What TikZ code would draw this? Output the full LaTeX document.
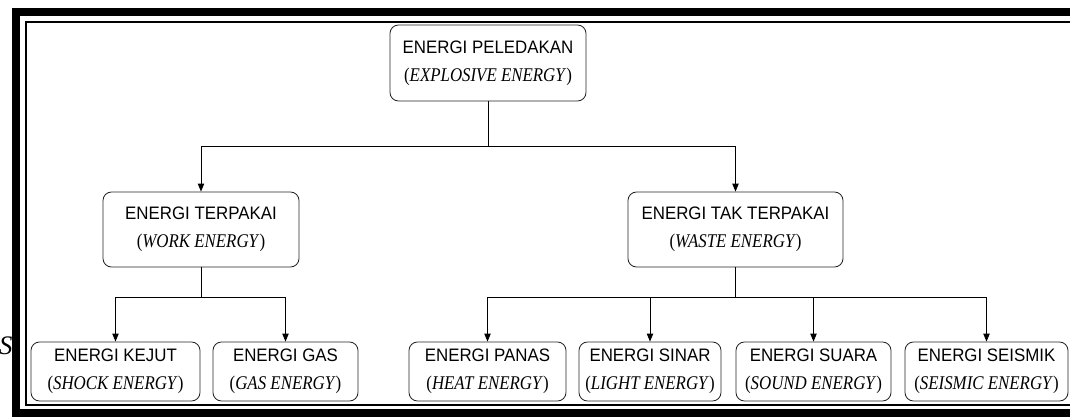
\documentclass[tikz,border=0pt]{standalone}
\usepackage{graphicx}
\usepackage{fontspec}
\setmainfont{Liberation Serif}
\setsansfont{Liberation Sans}
\usetikzlibrary{arrows.meta,calc}
\tikzset{
  >={Triangle[length=2mm,width=1.6mm]},
  ebox/.style={draw=black!85,rounded corners=6pt,line width=0.6pt,align=center,
    font=\fontsize{12}{20}\selectfont,inner sep=0pt,minimum width=#1},
  ebox/.default=4.9cm,
  flow/.style={->,line width=0.6pt},
  link/.style={line width=0.6pt},
}
\newcommand{\elabel}[2]{\scalebox{1}[1.07]{\sffamily #1}\\\scalebox{1}[1.15]{({\itshape #2\/})}}

\begin{document}
\begin{tikzpicture}
  \useasboundingbox (0,0) rectangle (26.75,-10.475);
  % cut-off letter and frame
  \node[anchor=east,inner sep=0pt,font=\fontsize{19}{19}\selectfont\itshape] (stray) at (0.32,-8.65) {S};
  \draw[line width=0.2cm] (26.9,-0.3) -- (0.4,-0.3) -- (0.4,-10.325) -- (26.9,-10.325);
  \draw[line width=0.05cm] (26.9,-0.55) -- (0.65,-0.55) -- (0.65,-10.125) -- (26.9,-10.125);
  % levels
  \node[ebox,minimum height=1.9cm] (root) at (12.2,-1.575) {\elabel{ENERGI PELEDAKAN}{EXPLOSIVE ENERGY}};
  \node[ebox,minimum height=1.875cm] (work) at (5.025,-5.7375) {\elabel{ENERGI TERPAKAI}{WORK ENERGY}};
  \node[ebox=5.375cm,minimum height=1.875cm] (waste) at (18.3875,-5.7375) {\elabel{ENERGI TAK TERPAKAI}{WASTE ENERGY}};
  \foreach \n/\x/\w/\a/\b in {shock/2.8875/4.225/ENERGI KEJUT/SHOCK ENERGY,
      gas/7.1375/3.625/ENERGI GAS/GAS ENERGY,
      heat/12.1875/3.925/ENERGI PANAS/HEAT ENERGY,
      light/16.25/3.55/ENERGI SINAR/LIGHT ENERGY,
      sound/20.3375/3.875/ENERGI SUARA/SOUND ENERGY,
      seismic/24.6625/4.075/ENERGI SEISMIK/SEISMIC ENERGY}
    \node[ebox=\w cm,minimum height=1.475cm] (\n) at (\x,-9.2875) {\elabel{\a}{\b}};
  % connectors
  \coordinate (jroot) at ($(root.south)+(0,-1.125)$);
  \coordinate (jwork) at ($(work.south)+(0,-0.75)$);
  \coordinate (jwaste) at ($(waste.south)+(0,-0.75)$);
  \draw[link] (root) -- (jroot);
  \draw[flow] (jroot) -| (work);
  \draw[flow] (jroot) -| (waste);
  \draw[link] (work) -- (jwork);
  \foreach \c in {shock,gas} \draw[flow] (jwork) -| (\c);
  \draw[link] (waste) -- (jwaste);
  \foreach \c in {heat,light,sound,seismic} \draw[flow] (jwaste) -| (\c);
\end{tikzpicture}
\end{document}
